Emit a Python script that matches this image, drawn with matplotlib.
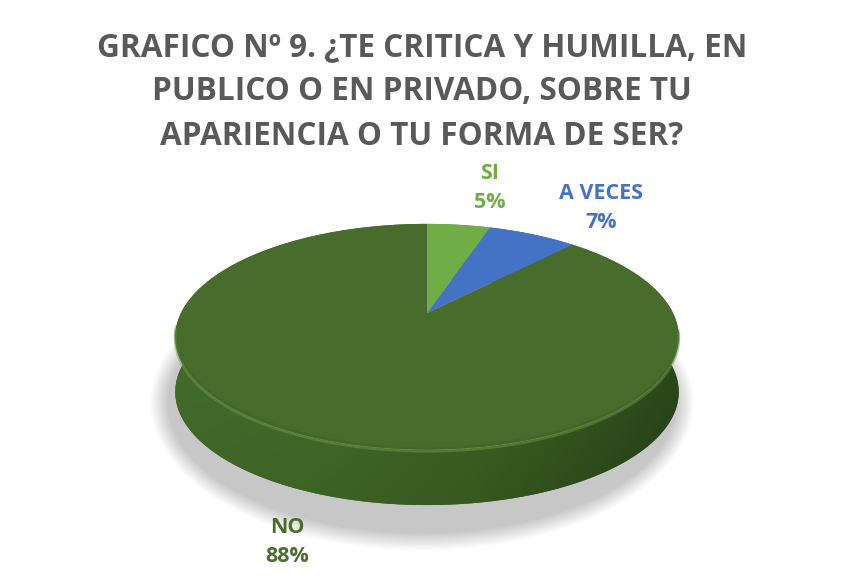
import numpy as np
import matplotlib
matplotlib.use('Agg')
import matplotlib.pyplot as plt
from matplotlib.patches import Polygon, Ellipse
from matplotlib.colors import LinearSegmentedColormap

# datos del grafico
categorias = ['SI', 'A VECES', 'NO']
porcentajes = [5, 7, 88]
colores_top = ['#70ad47', '#4472c4', '#486c2c']
colores_lado = ['#5e9239', '#3a62a8', '#3d5e25']
colores_texto = ['#70ad47', '#4472c4', '#4a6f2c']
titulo = 'GRAFICO Nº 9. ¿TE CRITICA Y HUMILLA, EN\nPUBLICO O EN PRIVADO, SOBRE TU\nAPARIENCIA O TU FORMA DE SER?'

W, H = 854, 583
fig = plt.figure(figsize=(W / 100, H / 100), dpi=100)
ax = fig.add_axes([0, 0, 1, 1])
ax.set_xlim(0, W)
ax.set_ylim(H, 0)
ax.axis('off')

# geometria del pastel 3D (perspectiva simple)
cx, cy = 427, 313
A, B, k = 108, 246, 0.212
depth = 55


def proj(theta, r=1.0, dz=0.0):
    u = r * np.sin(theta)
    v = r * np.cos(theta)
    d = 1 + k * v
    return cx + B * u / d, cy - A * v / d + dz


# sombra suave
for i in range(14):
    e = Ellipse((cx - 5, cy + 62 + depth * 0.5), 2 * B * 1.03 + 36 - i * 2.6,
                2 * A * 1.22 + 32 - i * 2.6, color='#000000', alpha=0.015, lw=0)
    ax.add_patch(e)

total = sum(porcentajes)
bordes = np.deg2rad(np.concatenate([[0], np.cumsum(porcentajes) / total * 360]))

# lados
for i in range(len(categorias)):
    t = np.linspace(bordes[i], bordes[i + 1], 300)
    x1, y1 = proj(t)
    x2, y2 = proj(t[::-1], dz=depth)
    pts = np.column_stack([np.concatenate([x1, x2]), np.concatenate([y1, y2])])
    poly = Polygon(pts, closed=True, fc=colores_lado[i], ec='none')
    ax.add_patch(poly)
    if categorias[i] == 'NO':
        cmap = LinearSegmentedColormap.from_list(
            'lado', ['#436b2a', '#3e6426', '#37591f', '#2a461a', '#1f3413'])
        gx = np.linspace(0, 1, 400)
        gy = np.linspace(0, 1, 80)[:, None]
        img = gx[None, :] ** 1.6 * 0.8 + gy * 0.3
        im = ax.imshow(img, cmap=cmap, extent=(cx - B * 1.05, cx + B * 1.05, cy + 250, cy + 40),
                       aspect='auto', zorder=1, vmin=0, vmax=1.1)
        im.set_clip_path(poly)

# caras superiores
for i in range(len(categorias)):
    t = np.linspace(bordes[i], bordes[i + 1], 300)
    x1, y1 = proj(t)
    xs = np.concatenate([[cx], x1])
    ys = np.concatenate([[cy], y1])
    ax.add_patch(Polygon(np.column_stack([xs, ys]), closed=True, fc=colores_top[i],
                         ec='none', zorder=2))

# brillo en el borde frontal
t = np.linspace(np.deg2rad(100), np.deg2rad(262), 300)
bx, by = proj(t)
ax.plot(bx, by + 1, color='#6f9f4c', lw=2.2, alpha=0.45, zorder=3, solid_capstyle='round')
ax.plot(bx, by - 2, color='#3a5a22', lw=2.0, alpha=0.25, zorder=3, solid_capstyle='round')

# etiquetas
pos_etiquetas = [(490, 188), (601, 208), (287, 542)]
for i in range(len(categorias)):
    x, y = pos_etiquetas[i]
    ax.text(x, y, f'{categorias[i]}\n{porcentajes[i]}%', ha='center', va='center',
            fontsize=15.5, fontweight='bold', color=colores_texto[i], family='Open Sans',
            linespacing=1.55, zorder=5)

ax.text(W / 2 - 5, 92, titulo, ha='center', va='center', fontsize=22.7, fontweight='bold',
        color='#595959', family='Open Sans', linespacing=1.47)

fig.savefig('out.png', dpi=100)
